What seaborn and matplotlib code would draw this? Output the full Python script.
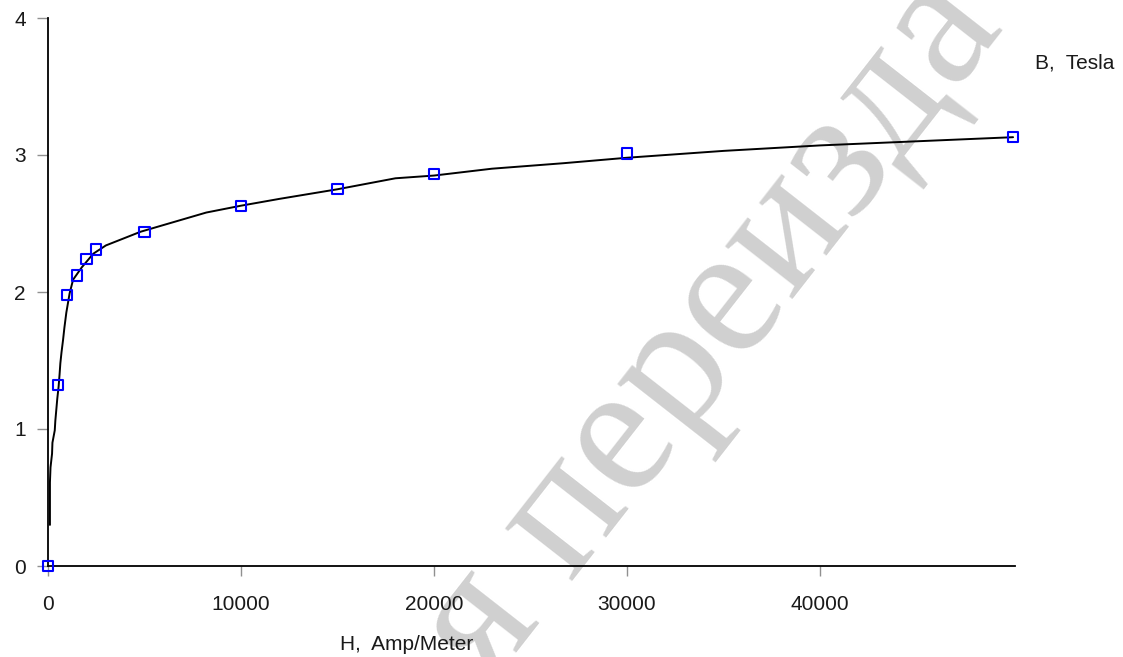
import matplotlib
matplotlib.use("Agg")
import matplotlib.pyplot as plt
import seaborn as sns
import pandas as pd

# Measured points (H in A/m, B in Tesla)
H_points = [0, 500, 1000, 1500, 2000, 2500, 5000, 10000, 15000, 20000, 30000, 50000]
B_points = [0.0, 1.32, 1.98, 2.12, 2.24, 2.31, 2.44, 2.63, 2.75, 2.86, 3.01, 3.13]

# Fitted curve
H_curve = [100, 100, 130, 210, 230, 350, 380, 430, 480, 550, 600, 640, 700, 780, 850, 950,
           1120, 1300, 1750, 2350, 3000, 4800, 6500, 8200, 10000, 12000, 15000, 18000,
           20000, 23000, 26700, 30000, 35000, 40000, 45000, 50000]
B_curve = [0.30, 0.61, 0.72, 0.82, 0.90, 0.99, 1.06, 1.14, 1.22, 1.31, 1.40, 1.48, 1.56, 1.65,
           1.74, 1.85, 1.99, 2.09, 2.18, 2.28, 2.34, 2.44, 2.51, 2.58, 2.63, 2.68, 2.75, 2.83,
           2.85, 2.90, 2.94, 2.98, 3.03, 3.07, 3.10, 3.13]

x_ticks = [0, 10000, 20000, 30000, 40000]
y_ticks = [0, 1, 2, 3, 4]
x_label = "H,  Amp/Meter"
y_label = "B,  Tesla"
watermark = "я переизда"

sns.set_style("white")
plt.rcParams["font.family"] = ["Liberation Sans", "DejaVu Sans"]

fig = plt.figure(figsize=(11.23, 6.57), dpi=100)
ax = fig.add_axes([48 / 1123, 1 - 566 / 657, (1015 - 48) / 1123, (566 - 18) / 657])

# watermark behind everything else
fig.text(712 / 1123, 1 - 330 / 657, watermark, fontsize=134, color="#d0d0d0",
         family=["Liberation Serif", "DejaVu Serif"], rotation=52,
         ha="center", va="center", rotation_mode="anchor", zorder=-5)
ax.set_facecolor("none")

curve_df = pd.DataFrame({"H": H_curve, "B": B_curve})
pts_df = pd.DataFrame({"H": H_points, "B": B_points})

sns.lineplot(data=curve_df, x="H", y="B", ax=ax, color="black", linewidth=1.4,
             estimator=None, sort=False, zorder=3)
sns.scatterplot(data=pts_df, x="H", y="B", ax=ax, marker="s", s=55,
                facecolors="none", edgecolor="#0000ff", linewidth=1.5, zorder=4, clip_on=False)

ax.set_xlim(0, 50100)
ax.set_ylim(0, 4)
ax.set_xticks(x_ticks)
ax.set_xticklabels([str(v) for v in x_ticks])
ax.set_yticks(y_ticks)
ax.set_yticklabels([str(v) for v in y_ticks])
ax.set_xlabel("")
ax.set_ylabel("")

for s in ["top", "right"]:
    ax.spines[s].set_visible(False)
for s in ["left", "bottom"]:
    ax.spines[s].set_color("black")
    ax.spines[s].set_linewidth(1.3)

ax.tick_params(axis="y", direction="out", length=8, width=1.0, color="#909090",
               pad=8, labelsize=15, labelcolor="#1a1a1a", left=True)
ax.tick_params(axis="x", direction="out", length=7, width=1.0, color="#909090",
               pad=14, labelsize=15, labelcolor="#1a1a1a", bottom=True)

fig.text(407 / 1123, 1 - 645 / 657, x_label, fontsize=15, color="#1a1a1a",
         ha="center", va="center")
fig.text(1035 / 1123, 1 - 63 / 657, y_label, fontsize=15, color="#1a1a1a",
         ha="left", va="center")

fig.savefig("out.png", dpi=100)
